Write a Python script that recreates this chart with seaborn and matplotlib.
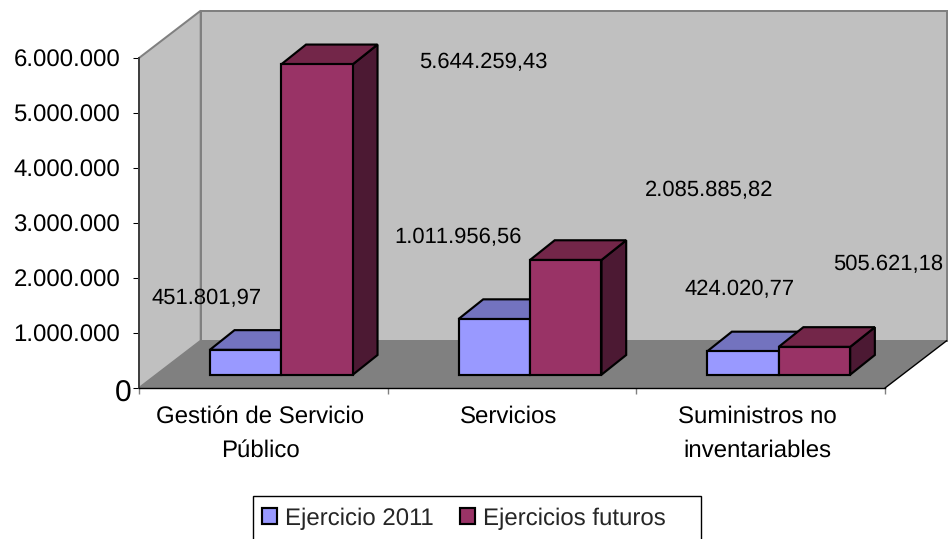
import numpy as np
import pandas as pd
import matplotlib
matplotlib.use("Agg")
import matplotlib.pyplot as plt
from matplotlib.patches import Polygon, Rectangle
from matplotlib.transforms import ScaledTranslation, IdentityTransform
import seaborn as sns

categories = ["Gestión de Servicio\nPúblico", "Servicios", "Suministros no\ninventariables"]
series_names = ["Ejercicio 2011", "Ejercicios futuros"]
values_2011 = [451801.97, 1011956.56, 424020.77]
values_futuros = [5644259.43, 2085885.82, 505621.18]
labels_2011 = ["451.801,97", "1.011.956,56", "424.020,77"]
labels_futuros = ["5.644.259,43", "2.085.885,82", "505.621,18"]
y_ticks = [0, 1000000, 2000000, 3000000, 4000000, 5000000, 6000000]
y_tick_labels = ["0", "1.000.000", "2.000.000", "3.000.000", "4.000.000", "5.000.000", "6.000.000"]

colors = {"Ejercicio 2011": "#9999FF", "Ejercicios futuros": "#993366"}
top_colors = ["#7373BF", "#732649"]
side_colors = ["#4C4C80", "#4C1933"]

W, H, DPI = 948, 539, 100
sns.set_theme(style="white")
plt.rcParams["font.family"] = ["Liberation Sans", "DejaVu Sans"]
plt.rcParams["text.hinting"] = "no_hinting"
plt.rcParams["text.hinting_factor"] = 1
BORDER = 1.55

fig = plt.figure(figsize=(W / DPI, H / DPI), dpi=DPI, facecolor="white")
ax = fig.add_axes([139 / W, (H - 388) / H, (885 - 139) / W, 330 / H])
ax.patch.set_alpha(0)

df = pd.DataFrame({
    "categoria": categories * 2,
    "serie": [series_names[0]] * 3 + [series_names[1]] * 3,
    "valor": values_2011 + values_futuros,
})
sns.barplot(data=df, x="categoria", y="valor", hue="serie", palette=colors,
            order=categories, hue_order=series_names, width=0.575, gap=0,
            saturation=1, edgecolor="black", linewidth=BORDER, ax=ax, legend=True)

ax.set_xlim(-0.5, 2.5)
ax.set_ylim(0, 6000000)
ax.set_xlabel("")
ax.set_ylabel("")

# Chart box in perspective
WALL_DX, WALL_DY = 61.7, 47.3
BAR_DX, BAR_DY = 18.0, 13.3
DEPTH_DX, DEPTH_DY = 24.7, 19.7

def corner(ax_x, ax_y, dx=0.0, dy=0.0):
    p = ax.transAxes.transform((ax_x, ax_y))
    return (p[0] + dx, p[1] + dy)

def face(points, zorder, **kw):
    ax.add_patch(Polygon(points, closed=True, transform=IdentityTransform(),
                         clip_on=False, zorder=zorder, joinstyle="miter", **kw))

wall_kw = dict(facecolor="#C0C0C0", edgecolor="#808080", linewidth=1.44)
face([corner(0, 0), corner(0, 1), corner(0, 1, WALL_DX, WALL_DY), corner(0, 0, WALL_DX, WALL_DY)], 0.2, **wall_kw)
face([corner(0, 0, WALL_DX, WALL_DY), corner(0, 1, WALL_DX, WALL_DY),
      corner(1, 1, WALL_DX, WALL_DY), corner(1, 0, WALL_DX, WALL_DY)], 0.2, **wall_kw)
face([corner(0, 0), corner(0, 0, WALL_DX, WALL_DY), corner(1, 0, WALL_DX, WALL_DY), corner(1, 0)],
     0.3, facecolor="#808080", edgecolor="none")
a, b = corner(1, 0), corner(1, 0, WALL_DX, WALL_DY)
ax.add_line(plt.Line2D([a[0], b[0]], [a[1], b[1]], color="black", lw=1.0,
                       transform=IdentityTransform(), clip_on=False, zorder=0.4))

# Extrude each bar
shift = ScaledTranslation(BAR_DX / DPI, BAR_DY / DPI, fig.dpi_scale_trans)
for s, container in enumerate(ax.containers):
    base_z = 3 + 2 * s
    for patch in container.patches:
        x0, x1 = patch.get_x(), patch.get_x() + patch.get_width()
        v = patch.get_height()
        p10 = ax.transData.transform((x1, 0)) + (BAR_DX, BAR_DY)
        p01 = ax.transData.transform((x0, v)) + (BAR_DX, BAR_DY)
        p11 = ax.transData.transform((x1, v)) + (BAR_DX, BAR_DY)
        d = np.array([DEPTH_DX, DEPTH_DY])
        edge = dict(edgecolor="black", linewidth=BORDER)
        face([p10, p11, p11 + d, p10 + d], base_z, facecolor=side_colors[s], **edge)
        face([p01, p11, p11 + d, p01 + d], base_z, facecolor=top_colors[s], **edge)
        patch.set_transform(ax.transData + shift)
        patch.set_clip_on(False)
        patch.set_zorder(base_z + 0.5)
        patch.set_joinstyle("miter")

# Axes, ticks and labels
for side in ("top", "right"):
    ax.spines[side].set_visible(False)
ax.spines["left"].set_color("#404040")
ax.spines["left"].set_linewidth(1.44)
ax.spines["bottom"].set_color("black")
ax.spines["bottom"].set_linewidth(1.0)
for sp in ax.spines.values():
    sp.set_zorder(2)

ax.set_yticks(y_ticks, labels=y_tick_labels)
ax.tick_params(axis="y", which="major", length=4.3, width=0.75, color="black",
               labelsize=17.2, labelcolor="black", pad=9.2, left=True)
zero = ax.get_yticklabels()[0]
zero.set_fontsize(21.5)
zero.set_transform(zero.get_transform() + ScaledTranslation(11.7 / DPI, -3 / DPI, fig.dpi_scale_trans))

ax.set_xticks([-0.5, 0.5, 1.5, 2.5], labels=["", "", "", ""])
ax.set_xticks([0, 1, 2], labels=categories, minor=True)
ax.tick_params(axis="x", which="major", length=4.5, width=1.0, color="#808080", bottom=True)
ax.tick_params(axis="x", which="minor", length=0, labelsize=17.2, labelcolor="black", pad=12.5)
for lab in ax.get_xticklabels(minor=True):
    lab.set_linespacing(1.65)
    lab.set_transform(lab.get_transform() + ScaledTranslation(-3 / DPI, 0, fig.dpi_scale_trans))

# Data labels, floating away from their bars as in the source chart
offsets_2011 = [(-21.5, 64.8), (-18, 94.9), (15, 75)]
offsets_futuros = [(184, 15.2), (161, 82.6), (91.5, 95.5)]
for container, texts, offs in zip(ax.containers, [labels_2011, labels_futuros], [offsets_2011, offsets_futuros]):
    for patch, txt, off in zip(container.patches, texts, offs):
        ax.annotate(txt, xy=(patch.get_x() + patch.get_width() / 2, patch.get_height()),
                    xycoords="data", xytext=off, textcoords="offset pixels",
                    ha="center", va="center", fontsize=15.5, color="black",
                    annotation_clip=False, zorder=12)

# Legend
fig.add_artist(Rectangle((252.7, -3), 448, H - 496 + 3, transform=IdentityTransform(),
                         facecolor="white", edgecolor="black", linewidth=1.0, zorder=-1))
sns.move_legend(ax, loc="center left", bbox_to_anchor=(262 / W, (H - 518.5) / H),
                bbox_transform=fig.transFigure, ncol=2, title=None, frameon=False,
                fontsize=17.3, handlelength=0.62, handleheight=0.62, handletextpad=0.34,
                columnspacing=1.08, borderaxespad=0, borderpad=0)
ax.get_legend().set_zorder(20)

fig.savefig("out.png", dpi=DPI, facecolor="white")
